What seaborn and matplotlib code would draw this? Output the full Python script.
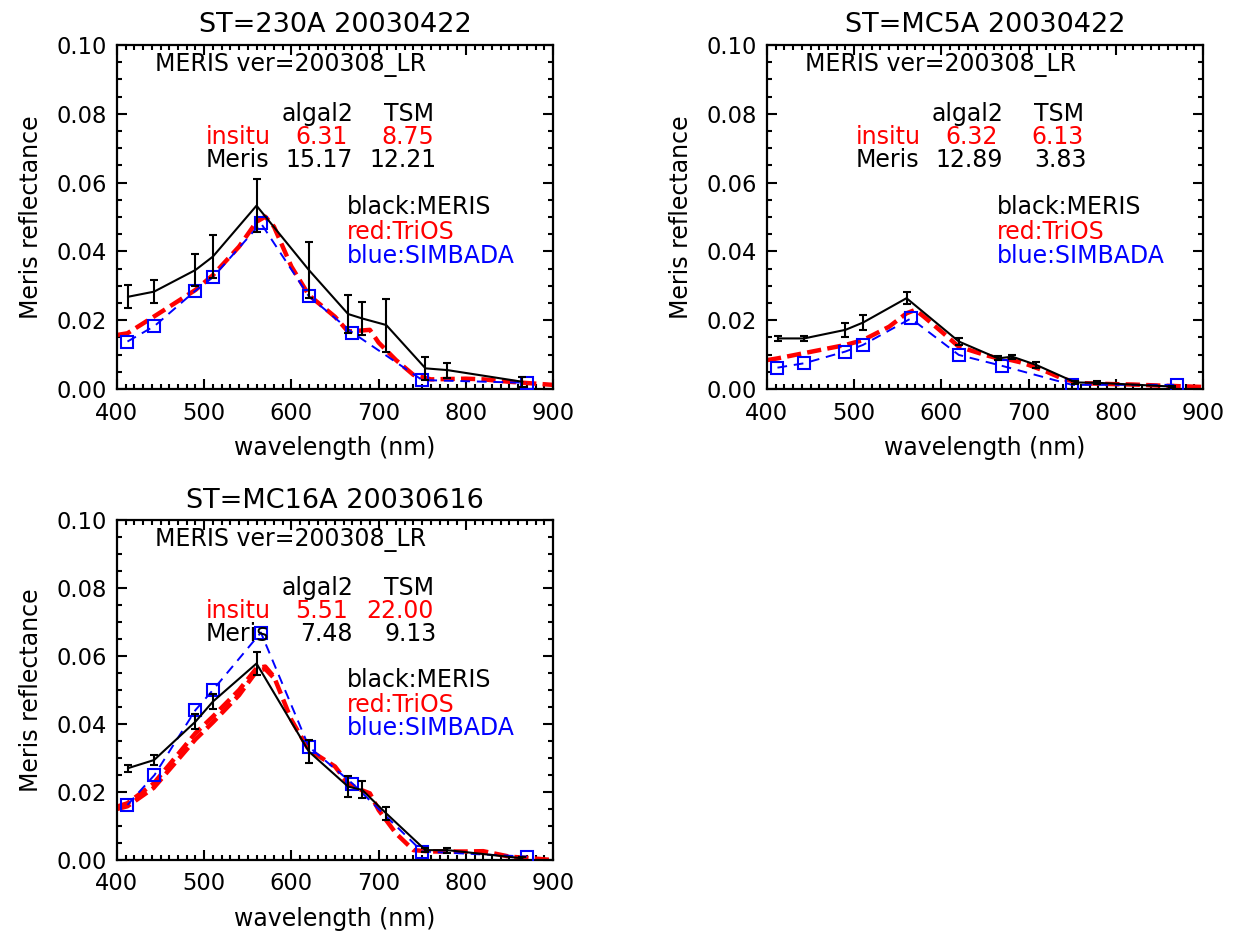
import matplotlib
matplotlib.use("Agg")
import matplotlib.pyplot as plt
import seaborn as sns
import pandas as pd
from matplotlib.ticker import MultipleLocator, FormatStrFormatter

sns.set_style("ticks")
plt.rcParams['font.family'] = ['DejaVu Sans']
plt.rcParams.update({"text.color": "black", "axes.labelcolor": "black",
                     "xtick.color": "black", "ytick.color": "black"})

# ---------------- data ----------------
titles = ["ST=230A 20030422", "ST=MC5A 20030422", "ST=MC16A 20030616"]
version_label = "MERIS ver=200308_LR"
insitu_algal2 = ["6.31", "6.32", "5.51"]
insitu_tsm = ["8.75", "6.13", "22.00"]
meris_algal2 = ["15.17", "12.89", "7.48"]
meris_tsm = ["12.21", "3.83", "9.13"]

meris_wl = [412.5, 442.5, 490, 510, 560, 620, 665, 681.25, 708.75, 753.75, 778.75, 865]
simbada_wl = [412, 443, 490, 510, 565, 620, 670, 750, 870]
trios_wl = [400, 412, 442, 490, 510, 540, 560, 570, 580, 600, 620, 650, 665, 680,
            690, 700, 720, 740, 760, 800, 820, 850, 900]
trios2_wl = [400, 412, 442, 490, 510, 540, 560, 570, 580]

meris_p1 = [0.0268, 0.0283, 0.0346, 0.0385, 0.0533, 0.0346, 0.0218, 0.0205, 0.0186, 0.0060, 0.0055, 0.0021]
meris_err_p1 = [0.0033, 0.0033, 0.0047, 0.0062, 0.0078, 0.0081, 0.0056, 0.0048, 0.0077, 0.0034, 0.0022, 0.0015]
meris_p2 = [0.0147, 0.0147, 0.0172, 0.0193, 0.0264, 0.0138, 0.0089, 0.0094, 0.0070, 0.0019, 0.0018, 0.0007]
meris_err_p2 = [0.0008, 0.0008, 0.0020, 0.0022, 0.0017, 0.0010, 0.0006, 0.0006, 0.0008, 0.0004, 0.0004, 0.0003]
meris_p3 = [0.0270, 0.0294, 0.0407, 0.0466, 0.0578, 0.0319, 0.0216, 0.0206, 0.0137, 0.0029, 0.0029, 0.0005]
meris_err_p3 = [0.0010, 0.0015, 0.0022, 0.0022, 0.0035, 0.0035, 0.0030, 0.0025, 0.0020, 0.0005, 0.0007, 0.0004]

simbada_p1 = [0.0138, 0.0183, 0.0286, 0.0325, 0.0482, 0.0270, 0.0164, 0.0026, 0.0018]
simbada_p2 = [0.0062, 0.0075, 0.0109, 0.0128, 0.0205, 0.0099, 0.0067, 0.0012, 0.0012]
simbada_p3 = [0.0162, 0.0250, 0.0441, 0.0500, 0.0669, 0.0333, 0.0225, 0.0025, 0.0010]

trios_p1 = [0.0157, 0.0162, 0.0210, 0.0288, 0.0331, 0.0414, 0.0486, 0.0501, 0.0472, 0.0356, 0.0273,
            0.0210, 0.0167, 0.0170, 0.0172, 0.0135, 0.0084, 0.0041, 0.0028, 0.0030, 0.0028, 0.0021, 0.0012]
trios_p2 = [0.0084, 0.0089, 0.0104, 0.0128, 0.0142, 0.0181, 0.0220, 0.0230, 0.0210, 0.0167, 0.0123,
            0.0099, 0.0089, 0.0084, 0.0078, 0.0070, 0.0051, 0.0029, 0.0017, 0.0014, 0.0013, 0.0010, 0.0006]
trios_p3 = [0.0157, 0.0167, 0.0225, 0.0373, 0.0422, 0.0500, 0.0564, 0.0569, 0.0539, 0.0412, 0.0324,
            0.0275, 0.0225, 0.0206, 0.0196, 0.0147, 0.0078, 0.0029, 0.0025, 0.0025, 0.0026, 0.0010, 0.0000]
trios2_p3 = [0.0150, 0.0158, 0.0212, 0.0355, 0.0405, 0.0485, 0.0555, 0.0562, 0.0535]

panels = [
    dict(meris=meris_p1, err=meris_err_p1, simbada=simbada_p1, trios=[trios_p1]),
    dict(meris=meris_p2, err=meris_err_p2, simbada=simbada_p2, trios=[trios_p2]),
    dict(meris=meris_p3, err=meris_err_p3, simbada=simbada_p3, trios=[trios_p3, trios2_p3]),
]

# ---------------- figure ----------------
W, H = 1236, 936
fig = plt.figure(figsize=(W / 100, H / 100), dpi=100)
rects = [
    (117 / W, (H - 389) / H, 436 / W, 344 / H),
    (767 / W, (H - 389) / H, 436 / W, 344 / H),
    (117 / W, (H - 860) / H, 436 / W, 340 / H),
]
FS = 17
TFS = 16.3

for i, (rect, p) in enumerate(zip(rects, panels)):
    ax = fig.add_axes(rect)
    # TriOS (red dashed)
    for k, tr in enumerate(p["trios"]):
        wl = trios_wl if k == 0 else trios2_wl
        df = pd.DataFrame({"wl": wl, "r": tr})
        sns.lineplot(data=df, x="wl", y="r", ax=ax, color="red", lw=3.2,
                     estimator=None, sort=False, zorder=2)
        ax.lines[-1].set_dashes([3.2, 1.4])
    # SIMBADA (blue dashed with squares)
    df_s = pd.DataFrame({"wl": simbada_wl, "r": p["simbada"]})
    sns.lineplot(data=df_s, x="wl", y="r", ax=ax, color="blue", lw=1.4,
                 estimator=None, sort=False, marker="s", markersize=8,
                 markerfacecolor="none", markeredgecolor="blue", markeredgewidth=1.5, zorder=3)
    ax.lines[-1].set_dashes([5, 3.5])
    # MERIS (black solid with error bars)
    df_m = pd.DataFrame({"wl": meris_wl, "r": p["meris"]})
    sns.lineplot(data=df_m, x="wl", y="r", ax=ax, color="black", lw=1.5,
                 estimator=None, sort=False, zorder=4)
    ax.errorbar(meris_wl, p["meris"], yerr=p["err"], fmt="none", ecolor="black",
                elinewidth=1.5, capsize=3, capthick=1.5, zorder=4)

    ax.set_xlim(400, 900)
    ax.set_ylim(0, 0.10)
    ax.xaxis.set_major_locator(MultipleLocator(100))
    ax.xaxis.set_minor_locator(MultipleLocator(10))
    ax.yaxis.set_major_locator(MultipleLocator(0.02))
    ax.yaxis.set_minor_locator(MultipleLocator(0.005))
    ax.yaxis.set_major_formatter(FormatStrFormatter("%.2f"))
    ax.tick_params(which="both", direction="in", top=True, right=True, width=1.5,
                   labelsize=TFS, colors="black")
    ax.tick_params(which="major", length=7, pad=7)
    ax.tick_params(axis="x", which="major", pad=9)
    ax.tick_params(which="minor", length=3.5)
    for s in ax.spines.values():
        s.set_linewidth(1.6)
        s.set_color("black")
    ax.set_xlabel("wavelength (nm)", fontsize=FS, labelpad=8)
    ax.set_ylabel("Meris reflectance", fontsize=FS, labelpad=10)
    ax.set_title(titles[i], fontsize=19.5, pad=9)

    t = ax.transAxes
    ax.text(0.087, 0.942, version_label, transform=t, fontsize=FS, va="center", ha="left")
    ax.text(0.378, 0.800, "algal2", transform=t, fontsize=FS, va="center", ha="left")
    ax.text(0.612, 0.800, "TSM", transform=t, fontsize=FS, va="center", ha="left")
    ax.text(0.203, 0.733, "insitu", transform=t, fontsize=FS, va="center", ha="left", color="red")
    ax.text(0.530, 0.733, insitu_algal2[i], transform=t, fontsize=FS, va="center", ha="right", color="red")
    ax.text(0.727, 0.733, insitu_tsm[i], transform=t, fontsize=FS, va="center", ha="right", color="red")
    ax.text(0.203, 0.666, "Meris", transform=t, fontsize=FS, va="center", ha="left")
    ax.text(0.540, 0.666, meris_algal2[i], transform=t, fontsize=FS, va="center", ha="right")
    ax.text(0.733, 0.666, meris_tsm[i], transform=t, fontsize=FS, va="center", ha="right")
    ax.text(0.527, 0.530, "black:MERIS", transform=t, fontsize=FS, va="center", ha="left")
    ax.text(0.527, 0.457, "red:TriOS", transform=t, fontsize=FS, va="center", ha="left", color="red")
    ax.text(0.527, 0.388, "blue:SIMBADA", transform=t, fontsize=FS, va="center", ha="left", color="blue")

fig.savefig("out.png", dpi=100, facecolor="white")
